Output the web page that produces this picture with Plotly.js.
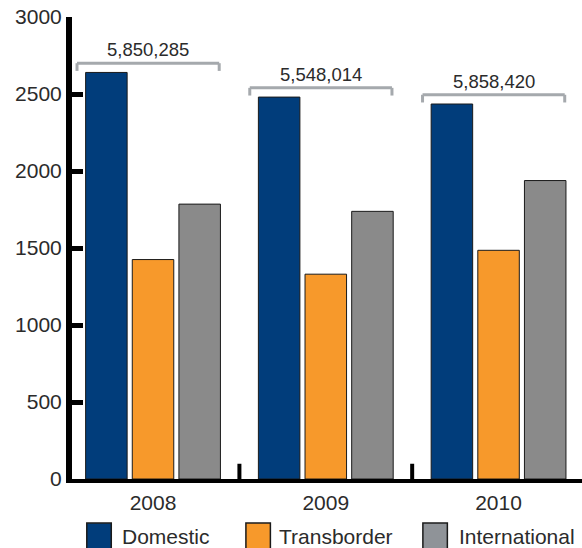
<!DOCTYPE html>
<html>
<head>
<meta charset="utf-8">
<script src="https://cdn.plot.ly/plotly-3.0.1.min.js"></script>
<style>html,body{margin:0;padding:0;background:#fff;}#chart{width:582px;height:548px;}</style>
</head>
<body>
<div id="chart"></div>
<script>
// ---- data ----
const years = ['2008', '2009', '2010'];
const domestic = [2640, 2480, 2435];
const transborder = [1425, 1330, 1485];
const international = [1785, 1738, 1938];
const totalLabels = ['5,850,285', '5,548,014', '5,858,420'];
const seriesNames = ['Domestic', 'Transborder', 'International'];
const yTicks = [0, 500, 1000, 1500, 2000, 2500, 3000];

// ---- styles ----
const colors = ['#013d7b', '#f7992b', '#8a8a8a'];
const legendColors = ['#013d7b', '#f7992b', '#8f9398'];
const textColor = '#2b2b2b';
const font = 'Liberation Sans, Arial, sans-serif';

const seriesData = [domestic, transborder, international];
const traces = seriesData.map((vals, k) => ({
  type: 'bar',
  x: years,
  y: vals,
  name: seriesNames[k],
  marker: {color: colors[k], line: {color: '#1a1a1a', width: 1}},
  hoverinfo: 'x+y+name',
  showlegend: false
}));

const shapes = [];
const annotations = [];

// brackets with totals
years.forEach((yr, i) => {
  const top = Math.max(domestic[i], transborder[i], international[i]);
  const yb = top + 60;   // bracket line height
  const ye = yb - 50;    // bracket end drop
  const x0 = i - 0.44, x1 = i + 0.383;
  const lineStyle = {color: '#a5a9ad', width: 3};
  shapes.push({type: 'line', xref: 'x', yref: 'y', x0: x0, x1: x1, y0: yb, y1: yb, line: lineStyle});
  shapes.push({type: 'line', xref: 'x', yref: 'y', x0: x0, x1: x0, y0: yb, y1: ye, line: lineStyle});
  shapes.push({type: 'line', xref: 'x', yref: 'y', x0: x1, x1: x1, y0: yb, y1: ye, line: lineStyle});
  annotations.push({
    x: (x0 + x1) / 2, y: yb, xref: 'x', yref: 'y',
    text: totalLabels[i], showarrow: false,
    yanchor: 'bottom', yshift: 1,
    font: {family: font, size: 18.5, color: textColor}
  });
});

// axis break marks between groups
[0.5, 1.5].forEach(b => {
  shapes.push({type: 'line', xref: 'x', yref: 'paper', x0: b, x1: b, y0: 0.0, y1: 0.033,
    line: {color: '#000', width: 4}});
});

// custom legend
const legX = [0.029, 0.341, 0.688];
const legTextX = [0.094, 0.402, 0.755];
seriesNames.forEach((nm, k) => {
  shapes.push({type: 'rect', xref: 'paper', yref: 'paper',
    x0: legX[k], x1: legX[k] + 0.048, y0: -0.154, y1: -0.0955,
    fillcolor: legendColors[k], line: {color: '#1a1a1a', width: 1.5}});
  annotations.push({
    x: legTextX[k], y: -0.1245, xref: 'paper', yref: 'paper',
    text: nm, showarrow: false, xanchor: 'left', yanchor: 'middle',
    font: {family: font, size: 21, color: textColor}
  });
});

const layout = {
  width: 582, height: 548,
  margin: {l: 72, r: 0, t: 17, b: 69, pad: 0},
  paper_bgcolor: '#fff', plot_bgcolor: '#fff',
  barmode: 'group', bargap: 0.19, bargroupgap: 0.11,
  showlegend: false,
  font: {family: font, color: textColor},
  xaxis: {
    type: 'category',
    range: [-0.469, 2.483],
    showline: true, linecolor: '#000', linewidth: 4,
    ticks: '', showgrid: false, zeroline: false,
    tickfont: {family: font, size: 21, color: textColor},
    ticklabelstandoff: 2,
    fixedrange: true
  },
  yaxis: {
    range: [0, 3000],
    tickvals: yTicks,
    showline: true, linecolor: '#000', linewidth: 6,
    ticks: 'inside', ticklen: 11, tickwidth: 5, tickcolor: '#000',
    showgrid: false, zeroline: false,
    tickfont: {family: font, size: 21, color: textColor},
    fixedrange: true
  },
  shapes: shapes,
  annotations: annotations
};

Plotly.newPlot('chart', traces, layout, {displayModeBar: false, staticPlot: false});
</script>
</body>
</html>
